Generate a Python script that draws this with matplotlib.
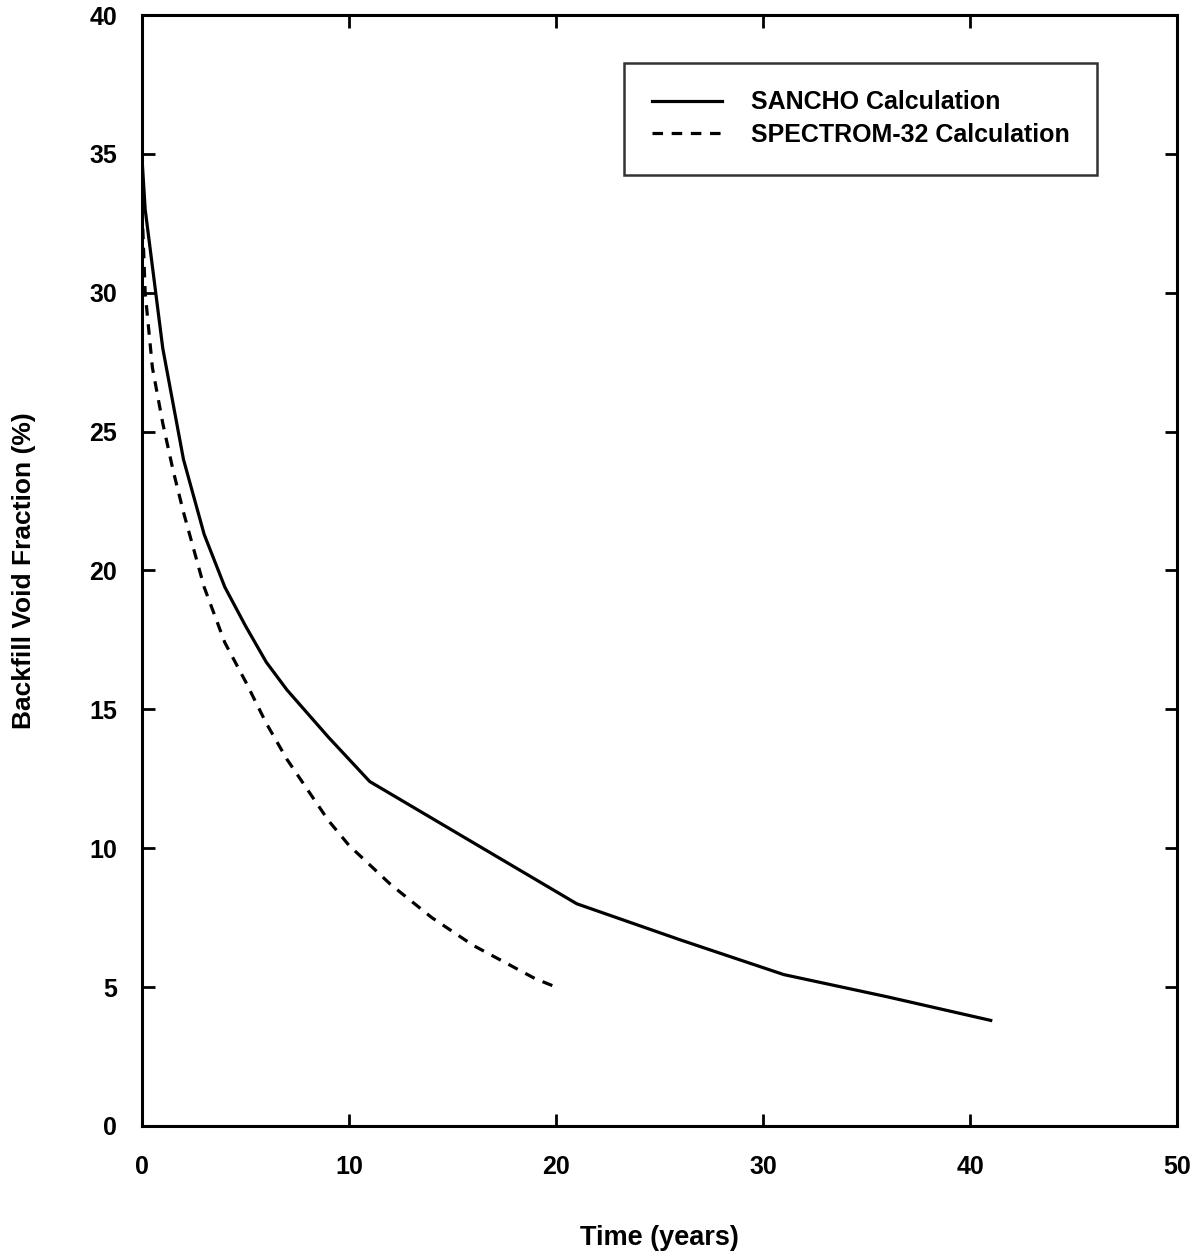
import matplotlib.pyplot as plt

plt.rcParams['font.family'] = ['Liberation Sans', 'DejaVu Sans']
plt.rcParams['font.weight'] = 'bold'

# SANCHO calculation
sancho_t = [0, 0.15, 1, 2, 3, 4, 5, 6, 7, 9, 11, 16, 21, 26, 31, 36, 41]
sancho_v = [34.8, 33.0, 28.0, 24.0, 21.3, 19.4, 18.0, 16.7, 15.7, 14.0, 12.4, 10.2, 8.0, 6.7, 5.45, 4.65, 3.8]

# SPECTROM-32 calculation
spectrom_t = [0, 0.15, 0.5, 1, 1.5, 2, 3, 4, 5, 6, 7, 8, 9, 10, 11, 12, 13, 14, 15, 16, 17, 18, 19, 20]
spectrom_v = [33.0, 30.0, 27.3, 25.3, 23.6, 22.1, 19.4, 17.4, 16.0, 14.5, 13.2, 12.1, 11.0, 10.1, 9.4,
              8.7, 8.1, 7.5, 7.0, 6.5, 6.1, 5.7, 5.3, 5.0]

x_ticks = [0, 10, 20, 30, 40, 50]
y_ticks = [0, 5, 10, 15, 20, 25, 30, 35, 40]

fig = plt.figure(figsize=(12.04, 12.53), dpi=100)
ax = fig.add_axes([0.118, 0.1014, 0.8596, 0.8866])

ax.plot(sancho_t, sancho_v, color='black', lw=2.3, label='SANCHO Calculation')
ax.plot(spectrom_t, spectrom_v, color='black', lw=2.3, dashes=(3.3, 2.7),
        label='SPECTROM-32 Calculation')

ax.set_xlim(0, 50)
ax.set_ylim(0, 40)
ax.set_xticks(x_ticks)
ax.set_yticks(y_ticks)
ax.tick_params(direction='in', length=9, width=2, top=True, right=True, labelsize=18)
ax.tick_params(axis='y', pad=18)
ax.tick_params(axis='x', pad=21)
for s in ax.spines.values():
    s.set_linewidth(2.2)

ax.set_xlabel('Time (years)', fontsize=19.5, fontweight='bold', labelpad=33)
ax.set_ylabel('Backfill Void Fraction (%)', fontsize=19, fontweight='bold', labelpad=38)

leg = ax.legend(loc='upper left', bbox_to_anchor=(0.466, 0.957), fontsize=18,
                frameon=True, fancybox=False, handlelength=2.8, handletextpad=1.15,
                borderpad=1.1, labelspacing=0.35, borderaxespad=0)
leg.get_frame().set_edgecolor('black')
leg.get_frame().set_linewidth(1.8)

fig.savefig('out.png', dpi=100)
